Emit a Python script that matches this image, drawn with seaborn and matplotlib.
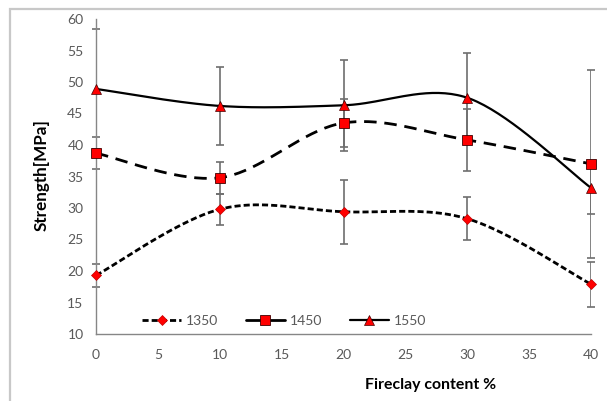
import numpy as np
import pandas as pd
import seaborn as sns
import matplotlib
matplotlib.use("Agg")
import matplotlib.pyplot as plt
from matplotlib.lines import Line2D
from matplotlib.patches import Rectangle

# ---- data ----
fireclay = [0, 10, 20, 30, 40]
s1350 = [19.3, 29.8, 29.4, 28.3, 17.9]
e1350 = [1.8, 2.5, 5.1, 3.4, 3.6]
s1450 = [38.7, 34.8, 43.5, 40.8, 37.0]
e1450 = [2.5, 2.5, 3.8, 4.9, 14.9]
s1550 = [48.9, 46.2, 46.3, 47.5, 33.2]
e1550 = [9.5, 6.2, 7.2, 7.1, 4.2]
series_names = ["1350", "1450", "1550"]
x_ticks = [0, 5, 10, 15, 20, 25, 30, 35, 40]
y_ticks = [10, 15, 20, 25, 30, 35, 40, 45, 50, 55, 60]

sns.set_style("white")
plt.rcParams["font.family"] = ["Lato", "DejaVu Sans"]


def smooth(x, y, n=40):
    """Excel-like smoothed line (Bezier through the points)."""
    P = np.column_stack([x, y]).astype(float)
    out = []
    for i in range(len(P) - 1):
        p0 = P[i - 1] if i > 0 else P[i]
        p1 = P[i]
        p2 = P[i + 1]
        p3 = P[i + 2] if i + 2 < len(P) else P[i + 1]
        c1 = p1 + (p2 - p0) / 6.0
        c2 = p2 - (p3 - p1) / 6.0
        t = np.linspace(0, 1, n)[:, None]
        seg = (1 - t) ** 3 * p1 + 3 * (1 - t) ** 2 * t * c1 + 3 * (1 - t) * t ** 2 * c2 + t ** 3 * p2
        out.append(seg if i == 0 else seg[1:])
    return np.vstack(out)


fig = plt.figure(figsize=(6.07, 4.01), dpi=100)
ax = fig.add_axes([96 / 607, 1 - 334 / 401, (591 - 96) / 607, (334 - 19) / 401])

# outer chart border
fig.patches.append(Rectangle((10 / 607, -0.05), 1.0, 1 - 9 / 401 + 0.05, transform=fig.transFigure,
                             fill=False, edgecolor="#c8c8c8", lw=1.6, zorder=0))

err_col = "#6e6e6e"
series = [
    (s1350, e1350, dict(lw=2.0, dashes=(2.2, 1.1), leg=(2.2, 1.1)),
     dict(marker="D", ms=5, mfc="red", mec="#c00000", mew=0.5)),
    (s1450, e1450, dict(lw=2.0, dashes=(4.5, 2.8), leg=None),
     dict(marker="s", ms=7.5, mfc="red", mec="#400000", mew=0.6)),
    (s1550, e1550, dict(lw=1.6, dashes=None, leg=None),
     dict(marker="^", ms=6.5, mfc="red", mec="#400000", mew=0.5)),
]

for vals, errs, lkw, mkw in series:
    ax.errorbar(fireclay, vals, yerr=errs, fmt="none", ecolor=err_col, elinewidth=1.2,
                capsize=3, capthick=1.2, zorder=1)

handles = []
for name, (vals, errs, lkw, mkw) in zip(series_names, series):
    curve = smooth(fireclay, vals)
    df = pd.DataFrame({"x": curve[:, 0], "y": curve[:, 1]})
    sns.lineplot(data=df, x="x", y="y", sort=False, estimator=None, ax=ax,
                 color="black", lw=lkw["lw"], zorder=2)
    line = ax.lines[-1]
    if lkw["dashes"] is not None:
        line.set_dashes(lkw["dashes"])
    ax.plot(fireclay, vals, ls="none", zorder=3, **mkw)
    h = Line2D([], [], color="black", lw=lkw["lw"], **mkw)
    if lkw["leg"] is not None:
        h.set_dashes(lkw["leg"])
    handles.append(h)

ax.set_xlim(0, 40)
ax.set_ylim(10, 60)
ax.set_xticks(x_ticks)
ax.set_yticks(y_ticks)
ax.set_xticklabels([str(v) for v in x_ticks])
ax.set_yticklabels([str(v) for v in y_ticks])
ax.set_xlabel("")
ax.set_ylabel("")

for s in ["top", "right"]:
    ax.spines[s].set_visible(False)
for s in ["left", "bottom"]:
    ax.spines[s].set_color("#868686")
    ax.spines[s].set_linewidth(1.0)
ax.tick_params(axis="both", direction="out", length=4, width=1.0, color="#868686",
               labelcolor="#595959", labelsize=10)
ax.tick_params(axis="x", pad=7)
ax.tick_params(axis="y", pad=5)
for ln in ax.lines:
    ln.set_clip_on(False)

fig.text(42 / 607, 1 - 175 / 401, "Strength[MPa]", rotation=90, ha="center", va="center",
         fontsize=12.3, fontweight="bold", color="black")
fig.text(431 / 607, 1 - 385 / 401, "Fireclay content %", ha="center", va="center",
         fontsize=11.4, fontweight="bold", color="black")

fig.legend(handles, series_names, ncol=3, frameon=False, loc="center",
           bbox_to_anchor=(284 / 607, 1 - 321 / 401), handlelength=2.8, handletextpad=0.35,
           columnspacing=2.0, fontsize=10, labelcolor="#595959")

fig.savefig("out.png", dpi=100)
